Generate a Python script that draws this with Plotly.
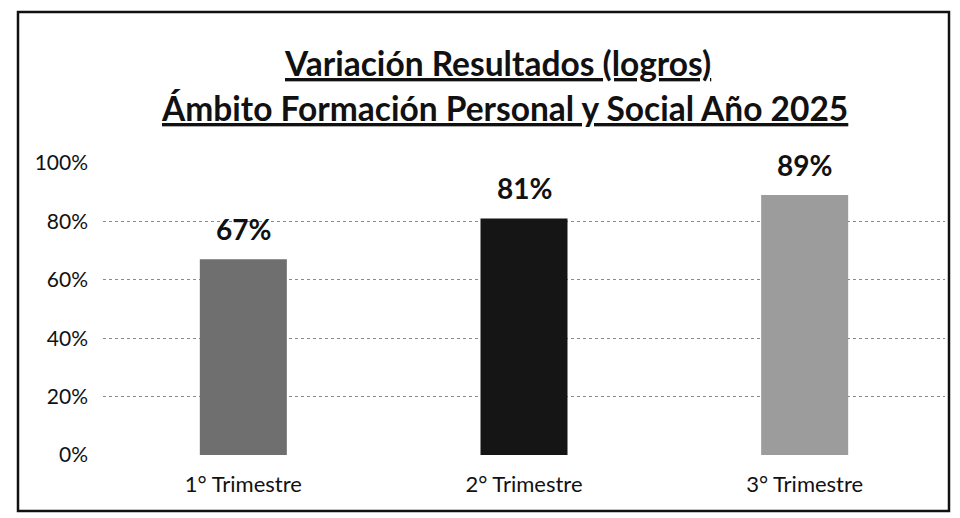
import plotly.graph_objects as go

categories = ["1° Trimestre", "2° Trimestre", "3° Trimestre"]
values = [67, 81, 89]
bar_colors = ["#6f6f6f", "#151515", "#9c9c9c"]
tick_vals = [0, 0.2, 0.4, 0.6, 0.8, 1.0]
tick_text = ["0%", "20%", "40%", "60%", "80%", "100%"]
title_line1 = "Variación Resultados (logros)"
title_line2 = "Ámbito Formación Personal y Social Año 2025"

FONT = "Lato"

# page places the figure at (8, 8); reference coords are shifted by OFF
OFF = 8
W, H = 952, 510
L, R, T, B = 103 - OFF, 15, 163 - OFF, 63
pw, ph = W - L - R, H - T - B

def px_x(x):
    return (x - OFF - L) / pw

def px_y(y):
    return (H - B - (y - OFF)) / ph

fig = go.Figure()
fig.add_trace(go.Bar(
    x=categories,
    y=[v / 100 for v in values],
    marker=dict(color=bar_colors, line=dict(width=0)),
    width=0.31,
    hoverinfo="skip",
))

for c, v in zip(categories, values):
    fig.add_annotation(
        x=c, y=v / 100, xref="x", yref="y",
        text=f"<b>{v}%</b>", showarrow=False,
        yanchor="middle", yshift=30,
        font=dict(family=FONT, size=28, color="#111111"),
    )

fig.add_annotation(
    x=px_x(497), y=px_y(63), xref="paper", yref="paper",
    text=f"<b><u>{title_line1}</u></b>", showarrow=False,
    xanchor="center", yanchor="middle",
    font=dict(family=FONT, size=33.5, color="#111111"),
)
fig.add_annotation(
    x=px_x(504), y=px_y(108), xref="paper", yref="paper",
    text=f"<b><u>{title_line2}</u></b>", showarrow=False,
    xanchor="center", yanchor="middle",
    font=dict(family=FONT, size=33.5, color="#111111"),
)

# chart border
fig.add_shape(
    type="rect", xref="paper", yref="paper",
    x0=px_x(18), x1=px_x(949), y0=px_y(511), y1=px_y(12),
    line=dict(color="#111111", width=2.5), fillcolor="rgba(0,0,0,0)",
    layer="above",
)

fig.update_layout(
    width=W, height=H,
    margin=dict(l=L, r=R, t=T, b=B, pad=0),
    paper_bgcolor="white",
    plot_bgcolor="white",
    showlegend=False,
    font=dict(family=FONT, color="#111111"),
)
fig.update_xaxes(
    showgrid=False, showline=False, zeroline=False,
    tickfont=dict(family=FONT, size=22, color="#111111"),
    ticklabelstandoff=14,
)
fig.update_yaxes(
    range=[0, 1.0], tickvals=tick_vals, ticktext=tick_text,
    showgrid=True, gridcolor="#8a8a8a", gridwidth=1, griddash="dot",
    zeroline=False, showline=False,
    tickfont=dict(family=FONT, size=21, color="#111111"),
    ticklabelstandoff=14,
)

fig.write_html("out.html")
